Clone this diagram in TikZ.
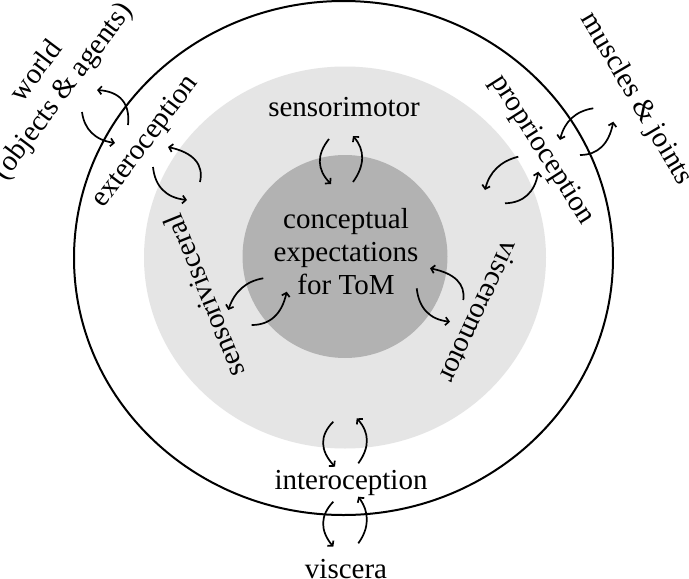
\documentclass[tikz,border=0pt]{standalone}
\usepackage{fontspec}
\setmainfont{Liberation Serif}
\usetikzlibrary{arrows.meta,calc}
\newcommand\qarc[3]{\draw[arr] (#1) .. controls ($(#1)!0.667!(#2)$) and ($(#3)!0.667!(#2)$) .. (#3);}
\begin{document}
\begin{tikzpicture}[x=1pt,y=-1pt,
  lab/.style={font=\fontsize{29}{33}\selectfont, inner sep=0pt, align=center},
  arr/.style={line width=1.7pt, -{Straight Barb[length=3.5pt,width=8pt]}},
]
\useasboundingbox (0,0) rectangle (689,579);
% rings
\draw[line width=2pt, fill=white] (343.5,258) ellipse [x radius=269.5pt, y radius=257pt];
\fill[black!10] (345,257.5) ellipse [x radius=201pt, y radius=191pt];
\fill[black!30] (345,256.5) ellipse [x radius=102.5pt, y radius=101.5pt];
% labels
\node[lab] (center) at (346,252) {conceptual\\expectations\\for ToM};
\node[lab] (sm) at (344,107) {sensorimotor};
\node[lab] (intero) at (351,483) {interoception};
\node[lab] (visc) at (346,569) {viscera};
\node[lab, rotate=53] (extero) at (146,142) {exteroception};
\node[lab, rotate=53] (world) at (50.5,82) {world\\(objects \& agents)};
\node[lab, rotate=-57.6] (proprio) at (542,150) {proprioception};
\node[lab, rotate=-59.5] (muscles) at (636,99) {muscles \& joints};
\node[lab, rotate=112] (sv) at (204,296) {sensorivisceral};
\node[lab, rotate=-115] (vm) at (480,312) {visceromotor};
% arrow end points
\coordinate (a1s) at (329,139);   \coordinate (a1e) at (331,184);
\coordinate (b1s) at (353,182);   \coordinate (b1e) at (353,136);
\coordinate (a2s) at (153,167);   \coordinate (a2e) at (187,200);
\coordinate (b2s) at (200,182);   \coordinate (b2e) at (168,147);
\coordinate (a3s) at (82,112);    \coordinate (a3e) at (115,143);
\coordinate (b3s) at (128,125);   \coordinate (b3e) at (97,90);
\coordinate (a4s) at (593.3,108.3); \coordinate (a4e) at (560,140);
\coordinate (b4s) at (580,155);   \coordinate (b4e) at (613.3,121.7);
\coordinate (a5s) at (518.3,156.7); \coordinate (a5e) at (485,190);
\coordinate (b5s) at (505,203.3); \coordinate (b5e) at (538.3,171.7);
\coordinate (a6s) at (263.3,278.3); \coordinate (a6e) at (228.3,310);
\coordinate (b6s) at (251.7,325); \coordinate (b6e) at (286.7,291.7);
\coordinate (a7s) at (416.7,288.3); \coordinate (a7e) at (450,321.7);
\coordinate (b7s) at (463.3,300); \coordinate (b7e) at (430,268.3);
\coordinate (a8s) at (333.3,421.7); \coordinate (a8e) at (335,466.7);
\coordinate (b8s) at (358.3,463.3); \coordinate (b8e) at (356.7,418.3);
\coordinate (a9s) at (333.3,501.7); \coordinate (a9e) at (333.3,546.7);
\coordinate (b9s) at (358.3,543.3); \coordinate (b9e) at (358.3,496.7);
% arrows
\qarc{a1s}{310,162.5}{a1e}
\qarc{b1s}{371,157}{b1e}
\qarc{a2s}{156,196.5}{a2e}
\qarc{b2s}{206,155.5}{b2e}
\qarc{a3s}{85.5,138.5}{a3e}
\qarc{b3s}{131.5,92.5}{b3e}
\qarc{a4s}{566.7,112.4}{a4e}
\qarc{b4s}{606.7,155}{b4e}
\qarc{a5s}{491.7,163.2}{a5e}
\qarc{b5s}{532.9,202.5}{b5e}
\qarc{a6s}{237.6,282.4}{a6e}
\qarc{b6s}{279.4,325}{b6e}
\qarc{a7s}{420,318.4}{a7e}
\qarc{b7s}{466.7,275.8}{b7e}
\qarc{a8s}{312.4,442.4}{a8e}
\qarc{b8s}{375.9,439.2}{b8e}
\qarc{a9s}{313.3,522.4}{a9e}
\qarc{b9s}{375.1,520}{b9e}
\end{tikzpicture}
\end{document}
